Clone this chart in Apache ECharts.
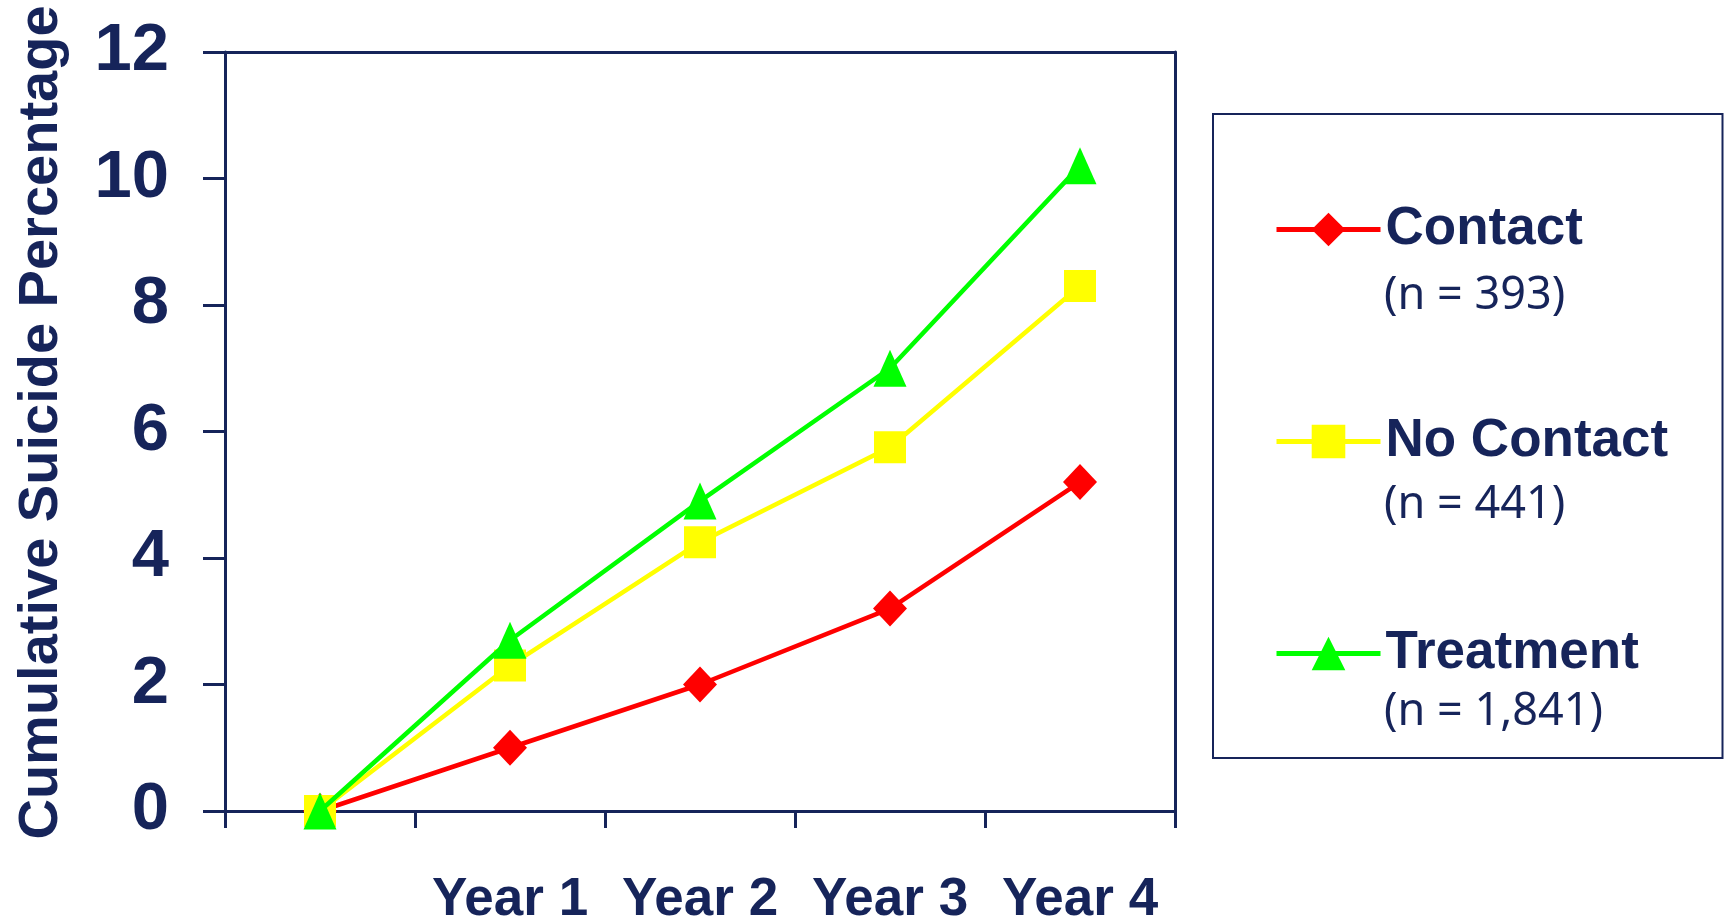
<!DOCTYPE html>
<html>
<head>
<meta charset="utf-8">
<script src="https://cdn.jsdelivr.net/npm/echarts@6/dist/echarts.min.js"></script>
<style>
html,body{margin:0;padding:0;background:#ffffff;}
#chart{width:1725px;height:918px;}
</style>
</head>
<body>
<div id="chart"></div>
<script>
// ---- data ----
const categories = ['', 'Year 1', 'Year 2', 'Year 3', 'Year 4'];
const seriesNames = ['Contact', 'No Contact', 'Treatment'];
const sampleSizes = ['(n = 393)', '(n = 441)', '(n = 1,841)'];
const contactValues = [0, 1.0, 2.0, 3.2, 5.2];
const noContactValues = [0, 2.3, 4.25, 5.75, 8.3];
const treatmentValues = [0, 2.7, 4.9, 7.0, 10.2];
const yMin = 0, yMax = 12, yStep = 2;
const yTitle = 'Cumulative Suicide Percentage';

// ---- style ----
const NAVY = '#16245a';
const seriesColors = ['#ff0000', '#ffff00', '#00ff00'];
const seriesSymbols = ['diamond', 'rect', 'triangle'];
const seriesSymbolSizes = [[34, 36], [32, 32], [33, 37]];
const seriesValues = [contactValues, noContactValues, treatmentValues];

// legend layout (pixels)
const LEG_LEFT = 1213, LEG_TOP = 114, LEG_ICON_H = 42, LEG_STEP = 211;
const LEG_FIRST_CENTER = 226;
const subOffsets = [70, 68, 64];

const chart = echarts.init(document.getElementById('chart'), null, {renderer: 'canvas'});

const subTexts = sampleSizes.map(function (t, i) {
  return {
    type: 'text',
    left: 1384,
    top: LEG_FIRST_CENTER + i * LEG_STEP + subOffsets[i] - 26,
    z: 100,
    style: {
      text: t,
      fill: NAVY,
      font: 'normal 45px "Noto Sans", "Open Sans", sans-serif',
      lineHeight: 52,
      verticalAlign: 'top'
    }
  };
});

const option = {
  backgroundColor: '#ffffff',
  animation: false,
  grid: {left: 225, right: 550, top: 52, bottom: 107, containLabel: false, outerBoundsMode: 'none'},
  xAxis: [
    {
      type: 'category',
      data: categories,
      boundaryGap: true,
      position: 'bottom',
      axisLine: {show: true, onZero: false, lineStyle: {color: NAVY, width: 3}},
      axisTick: {show: true, interval: 0, length: 17, lineStyle: {color: NAVY, width: 3}},
      axisLabel: {
        interval: 0, margin: 63, color: NAVY,
        fontFamily: 'Liberation Sans, Arial, sans-serif', fontWeight: 'bold', fontSize: 53
      },
      splitLine: {show: false}
    },
    {
      type: 'category',
      data: categories,
      position: 'top',
      axisLine: {show: true, onZero: false, lineStyle: {color: NAVY, width: 3}},
      axisTick: {show: false},
      axisLabel: {show: false},
      splitLine: {show: false}
    }
  ],
  yAxis: [
    {
      type: 'value',
      min: yMin, max: yMax, interval: yStep,
      position: 'left',
      name: yTitle,
      nameLocation: 'middle',
      nameRotate: 90,
      nameGap: 155,
      nameTextStyle: {
        color: NAVY, fontFamily: 'Liberation Sans, Arial, sans-serif',
        fontWeight: 'bold', fontSize: 56, padding: [0, 0, 0, 18]
      },
      axisLine: {show: true, onZero: false, lineStyle: {color: NAVY, width: 3}},
      axisTick: {show: true, length: 22, lineStyle: {color: NAVY, width: 3}},
      axisLabel: {
        margin: 56, color: NAVY,
        fontFamily: 'Liberation Sans, Arial, sans-serif', fontWeight: 'bold', fontSize: 67
      },
      splitLine: {show: false}
    },
    {
      type: 'value',
      min: yMin, max: yMax, interval: yStep,
      position: 'right',
      axisLine: {show: true, onZero: false, lineStyle: {color: NAVY, width: 3}},
      axisTick: {show: false},
      axisLabel: {show: false},
      splitLine: {show: false}
    }
  ],
  legend: {
    orient: 'vertical',
    left: LEG_LEFT,
    top: LEG_TOP,
    padding: [89, 47, 78, 61],
    itemGap: 159,
    itemWidth: 104,
    itemHeight: LEG_ICON_H,
    borderColor: NAVY,
    borderWidth: 2,
    lineStyle: {width: 5},
    data: seriesNames,
    formatter: function (name) {
      return '{name|' + name + '}';
    },
    textStyle: {
      color: NAVY,
      rich: {
        name: {
          fontFamily: 'Liberation Sans, Arial, sans-serif', fontWeight: 'bold',
          fontSize: 53, lineHeight: LEG_ICON_H, color: NAVY, width: 290
        }
      }
    }
  },
  graphic: subTexts,
  series: seriesNames.map(function (name, i) {
    return {
      name: name,
      type: 'line',
      data: seriesValues[i],
      xAxisIndex: 0,
      yAxisIndex: 0,
      symbol: seriesSymbols[i],
      symbolSize: seriesSymbolSizes[i],
      showAllSymbol: true,
      lineStyle: {color: seriesColors[i], width: 4.5},
      itemStyle: {color: seriesColors[i], borderWidth: 0},
      emphasis: {disabled: true},
      z: 2 + i
    };
  })
};

chart.setOption(option);
</script>
</body>
</html>
